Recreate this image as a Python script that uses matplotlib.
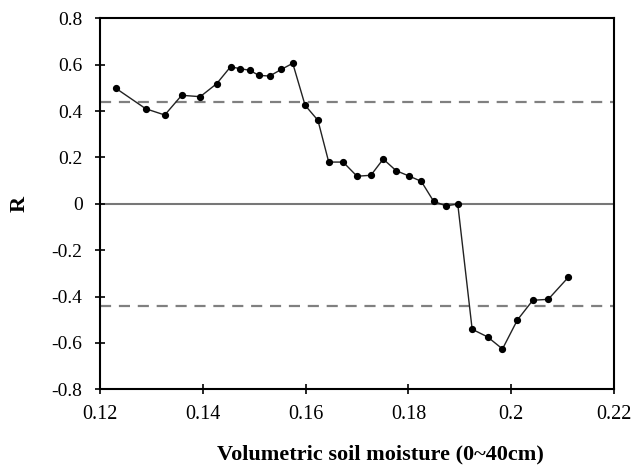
import numpy as np
import matplotlib.pyplot as plt

plt.rcParams['font.family'] = 'Liberation Serif'

# soil moisture (x) and correlation R (y)
moisture = [0.1231, 0.1289, 0.1326, 0.1359, 0.1395, 0.1427, 0.1454, 0.1472,
            0.1491, 0.1509, 0.1530, 0.1553, 0.1575, 0.1599, 0.1624, 0.1645,
            0.1673, 0.1700, 0.1727, 0.1751, 0.1776, 0.1801, 0.1825, 0.1849,
            0.1873, 0.1896, 0.1924, 0.1954, 0.1983, 0.2012, 0.2042, 0.2072,
            0.2111]
r_vals = [0.498, 0.410, 0.383, 0.468, 0.462, 0.518, 0.591, 0.583,
          0.576, 0.554, 0.551, 0.580, 0.606, 0.425, 0.360, 0.180,
          0.180, 0.119, 0.123, 0.193, 0.143, 0.120, 0.097, 0.011,
          -0.009, -0.001, -0.541, -0.574, -0.626, -0.501, -0.416, -0.412,
          -0.317]
r_sig = 0.44  # significance level

xticks = [0.12, 0.14, 0.16, 0.18, 0.2, 0.22]
xticklabels = ['0.12', '0.14', '0.16', '0.18', '0.2', '0.22']
yticks = [-0.8, -0.6, -0.4, -0.2, 0, 0.2, 0.4, 0.6, 0.8]
yticklabels = ['-0.8', '-0.6', '-0.4', '-0.2', '0', '0.2', '0.4', '0.6', '0.8']

fig = plt.figure(figsize=(6.34, 4.72), dpi=100)
ax = fig.add_axes([0.1577, 0.1752, 0.8108, 0.786])

ax.axhline(0, color='#777777', linewidth=1.5, zorder=1)
ax.axhline(r_sig, color='#808080', linewidth=1.6, linestyle=(0, (5, 3.5)), zorder=1)
ax.axhline(-r_sig, color='#808080', linewidth=1.6, linestyle=(0, (5, 3.5)), zorder=1)
ax.plot(moisture, r_vals, '-', color='#222222', linewidth=1.0, zorder=2)
ax.plot(moisture, r_vals, 'o', color='black', markersize=4.2, zorder=3)

ax.set_xlim(0.12, 0.22)
ax.set_ylim(-0.8, 0.8)
ax.set_xticks(xticks)
ax.set_xticklabels(xticklabels, fontsize=14.5)
ax.set_yticks(yticks)
ax.set_yticklabels(yticklabels, fontsize=14)
ax.tick_params(direction='inout', length=7, width=1.2)
ax.tick_params(axis='x', pad=8)
ax.tick_params(axis='y', pad=9)
for s in ax.spines.values():
    s.set_linewidth(1.5)

ax.set_xlabel('Volumetric soil moisture (0~40cm)', fontsize=16, fontweight='bold')
ax.set_ylabel('R', fontsize=16, fontweight='bold')
ax.xaxis.set_label_coords(0.5457, -0.148)
ax.yaxis.set_label_coords(-0.136, 0.5)

plt.savefig('out.png', dpi=100)
